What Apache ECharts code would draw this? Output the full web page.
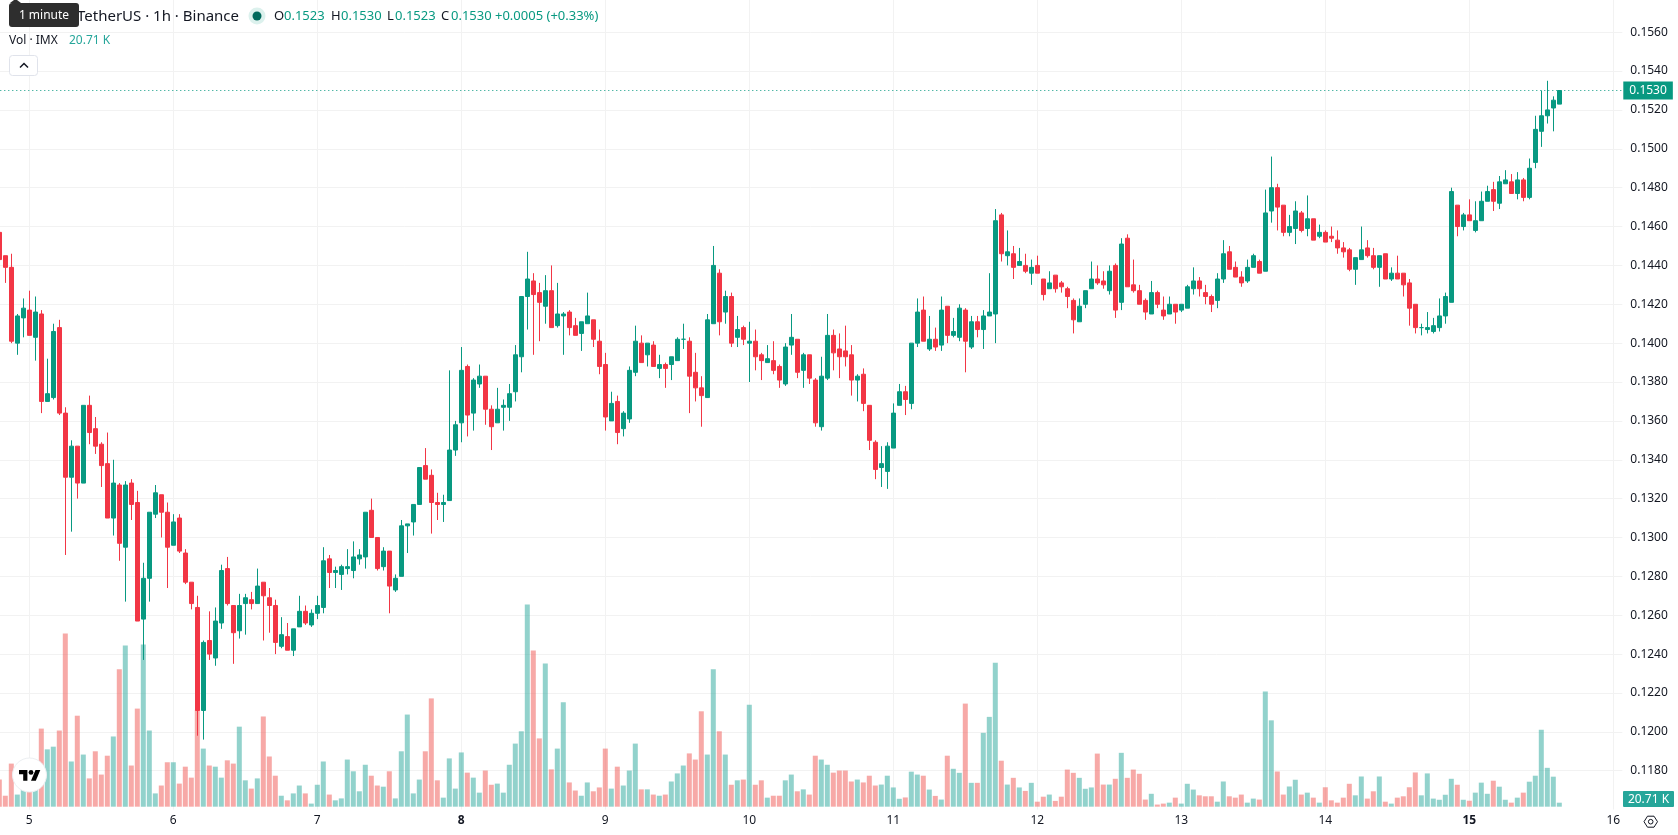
<!DOCTYPE html>
<html>
<head>
<meta charset="utf-8">
<title>IMX / USDT 1h</title>
<style>
  html, body { margin: 0; padding: 0; background: #fff; }
  #chart { width: 1678px; height: 835px; }
</style>
<script src="https://cdn.jsdelivr.net/npm/echarts@6/dist/echarts.min.js"></script>
</head>
<body>
<div id="chart"></div>
<script>
// Hourly bars, oldest first. The first bar is day 4, 19:00.
const opens = [
  0.1457,0.1445,0.1439,0.1400,0.1413,0.1417,0.1403,0.1415,0.1370,0.1372,
  0.1408,0.1364,0.1331,0.1347,0.1328,0.1368,0.1356,0.1348,0.1338,0.1310,
  0.1327,0.1295,0.1328,0.1318,0.1258,0.1279,0.1312,0.1322,0.1313,0.1296,
  0.1310,0.1292,0.1277,0.1264,0.1211,0.1247,0.1238,0.1256,0.1284,0.1265,
  0.1252,0.1266,0.1268,0.1266,0.1277,0.1269,0.1265,0.1244,0.1249,0.1242,
  0.1254,0.1262,0.1255,0.1261,0.1264,0.1289,0.1282,0.1281,0.1284,0.1283,
  0.1289,0.1290,0.1314,0.1300,0.1285,0.1293,0.1273,0.1280,0.1306,0.1308,
  0.1317,0.1337,0.1332,0.1318,0.1317,0.1319,0.1345,0.1359,0.1388,0.1364,
  0.1379,0.1383,0.1366,0.1359,0.1367,0.1367,0.1375,0.1393,0.1424,0.1432,
  0.1426,0.1419,0.1427,0.1409,0.1414,0.1416,0.1409,0.1405,0.1410,0.1412,
  0.1401,0.1389,0.1360,0.1370,0.1356,0.1361,0.1385,0.1400,0.1394,0.1399,
  0.1387,0.1389,0.1389,0.1391,0.1402,0.1401,0.1385,0.1377,0.1372,0.1410,
  0.1436,0.1416,0.1424,0.1403,0.1408,0.1400,0.1401,0.1394,0.1390,0.1391,
  0.1388,0.1379,0.1399,0.1402,0.1386,0.1394,0.1381,0.1357,0.1382,0.1404,
  0.1397,0.1396,0.1394,0.1381,0.1384,0.1368,0.1349,0.1336,0.1334,0.1346,
  0.1368,0.1375,0.1369,0.1400,0.1417,0.1397,0.1402,0.1399,0.1419,0.1404,
  0.1403,0.1417,0.1398,0.1411,0.1407,0.1414,0.1415,0.1466,0.1445,0.1446,
  0.1440,0.1440,0.1436,0.1440,0.1433,0.1428,0.1435,0.1431,0.1428,0.1422,
  0.1411,0.1420,0.1428,0.1433,0.1432,0.1427,0.1440,0.1421,0.1454,0.1430,
  0.1427,0.1422,0.1415,0.1426,0.1417,0.1415,0.1420,0.1417,0.1418,0.1428,
  0.1432,0.1426,0.1424,0.1422,0.1433,0.1447,0.1439,0.1434,0.1432,0.1439,
  0.1442,0.1437,0.1468,0.1480,0.1471,0.1457,0.1459,0.1467,0.1459,0.1464,
  0.1455,0.1457,0.1455,0.1453,0.1449,0.1448,0.1438,0.1443,0.1449,0.1445,
  0.1439,0.1446,0.1433,0.1436,0.1436,0.1431,0.1420,0.1408,0.1407,0.1406,
  0.1408,0.1414,0.1421,0.1471,0.1460,0.1466,0.1458,0.1463,0.1473,0.1479,
  0.1472,0.1482,0.1483,0.1477,0.1484,0.1475,0.1493,0.1509,0.1517,0.1521,
  0.1523
];
const highs = [
  0.1458,0.1445,0.1446,0.1415,0.1423,0.1427,0.1424,0.1417,0.1392,0.1410,
  0.1412,0.1367,0.1350,0.1347,0.1368,0.1373,0.1362,0.1349,0.1354,0.1340,
  0.1328,0.1329,0.1330,0.1324,0.1287,0.1313,0.1327,0.1322,0.1318,0.1312,
  0.1312,0.1294,0.1277,0.1270,0.1247,0.1262,0.1264,0.1286,0.1290,0.1265,
  0.1271,0.1271,0.1272,0.1284,0.1277,0.1274,0.1268,0.1259,0.1256,0.1253,
  0.1270,0.1265,0.1263,0.1270,0.1295,0.1291,0.1285,0.1286,0.1294,0.1298,
  0.1294,0.1313,0.1320,0.1300,0.1295,0.1293,0.1281,0.1309,0.1307,0.1317,
  0.1336,0.1346,0.1335,0.1323,0.1322,0.1386,0.1360,0.1398,0.1389,0.1382,
  0.1389,0.1383,0.1368,0.1377,0.1371,0.1379,0.1399,0.1424,0.1447,0.1436,
  0.1431,0.1435,0.1440,0.1431,0.1416,0.1417,0.1413,0.1411,0.1426,0.1412,
  0.1407,0.1395,0.1375,0.1373,0.1365,0.1388,0.1409,0.1404,0.1400,0.1401,
  0.1394,0.1390,0.1393,0.1403,0.1410,0.1403,0.1395,0.1383,0.1415,0.1450,
  0.1438,0.1427,0.1426,0.1414,0.1409,0.1411,0.1407,0.1395,0.1399,0.1401,
  0.1389,0.1400,0.1415,0.1402,0.1395,0.1394,0.1382,0.1393,0.1415,0.1407,
  0.1405,0.1409,0.1399,0.1384,0.1387,0.1368,0.1350,0.1347,0.1349,0.1369,
  0.1379,0.1378,0.1400,0.1423,0.1424,0.1414,0.1408,0.1424,0.1419,0.1413,
  0.1420,0.1418,0.1414,0.1414,0.1417,0.1436,0.1469,0.1467,0.1458,0.1450,
  0.1449,0.1446,0.1443,0.1445,0.1433,0.1437,0.1435,0.1432,0.1429,0.1423,
  0.1423,0.1427,0.1442,0.1440,0.1437,0.1440,0.1441,0.1454,0.1456,0.1443,
  0.1430,0.1423,0.1432,0.1427,0.1424,0.1424,0.1420,0.1420,0.1430,0.1439,
  0.1434,0.1430,0.1425,0.1436,0.1453,0.1450,0.1442,0.1437,0.1443,0.1446,
  0.1443,0.1479,0.1496,0.1482,0.1471,0.1466,0.1473,0.1468,0.1476,0.1464,
  0.1461,0.1458,0.1460,0.1458,0.1452,0.1449,0.1444,0.1460,0.1453,0.1449,
  0.1445,0.1446,0.1439,0.1445,0.1436,0.1433,0.1420,0.1410,0.1416,0.1413,
  0.1423,0.1426,0.1480,0.1471,0.1467,0.1474,0.1473,0.1478,0.1481,0.1483,
  0.1486,0.1489,0.1487,0.1488,0.1485,0.1495,0.1517,0.1530,0.1535,0.1527,
  0.1530
];
const lows = [
  0.1443,0.1431,0.1400,0.1394,0.1403,0.1404,0.1391,0.1364,0.1370,0.1371,
  0.1363,0.1291,0.1303,0.1320,0.1328,0.1348,0.1343,0.1326,0.1310,0.1301,
  0.1288,0.1267,0.1309,0.1257,0.1237,0.1267,0.1310,0.1300,0.1274,0.1296,
  0.1292,0.1276,0.1263,0.1198,0.1196,0.1237,0.1234,0.1253,0.1265,0.1235,
  0.1248,0.1250,0.1263,0.1266,0.1247,0.1251,0.1240,0.1243,0.1242,0.1239,
  0.1254,0.1255,0.1254,0.1258,0.1261,0.1274,0.1274,0.1273,0.1281,0.1279,
  0.1286,0.1284,0.1300,0.1283,0.1283,0.1261,0.1272,0.1280,0.1292,0.1301,
  0.1317,0.1330,0.1302,0.1309,0.1308,0.1319,0.1342,0.1349,0.1352,0.1355,
  0.1377,0.1358,0.1345,0.1359,0.1355,0.1360,0.1370,0.1385,0.1407,0.1394,
  0.1401,0.1410,0.1408,0.1408,0.1394,0.1404,0.1404,0.1396,0.1410,0.1398,
  0.1384,0.1355,0.1360,0.1348,0.1352,0.1359,0.1383,0.1390,0.1388,0.1388,
  0.1382,0.1377,0.1381,0.1391,0.1397,0.1364,0.1370,0.1357,0.1372,0.1410,
  0.1404,0.1410,0.1398,0.1398,0.1399,0.1380,0.1386,0.1381,0.1390,0.1384,
  0.1377,0.1378,0.1394,0.1382,0.1377,0.1379,0.1357,0.1355,0.1381,0.1386,
  0.1382,0.1388,0.1373,0.1370,0.1365,0.1345,0.1330,0.1326,0.1325,0.1346,
  0.1368,0.1363,0.1366,0.1398,0.1401,0.1396,0.1396,0.1396,0.1400,0.1403,
  0.1401,0.1385,0.1397,0.1403,0.1397,0.1414,0.1400,0.1442,0.1440,0.1433,
  0.1440,0.1436,0.1430,0.1436,0.1422,0.1428,0.1426,0.1426,0.1418,0.1405,
  0.1411,0.1418,0.1428,0.1430,0.1428,0.1425,0.1413,0.1417,0.1429,0.1426,
  0.1420,0.1412,0.1415,0.1418,0.1412,0.1415,0.1410,0.1416,0.1418,0.1425,
  0.1424,0.1420,0.1416,0.1418,0.1431,0.1438,0.1434,0.1429,0.1431,0.1439,
  0.1436,0.1437,0.1462,0.1458,0.1455,0.1455,0.1451,0.1457,0.1455,0.1453,
  0.1454,0.1452,0.1452,0.1446,0.1444,0.1437,0.1430,0.1443,0.1444,0.1438,
  0.1429,0.1433,0.1432,0.1433,0.1424,0.1409,0.1405,0.1404,0.1405,0.1405,
  0.1406,0.1410,0.1421,0.1455,0.1458,0.1463,0.1457,0.1463,0.1473,0.1468,
  0.1469,0.1482,0.1477,0.1474,0.1473,0.1474,0.1490,0.1501,0.1513,0.1509,
  0.1523
];
const closes = [
  0.1443,0.1439,0.1401,0.1414,0.1418,0.1404,0.1416,0.1370,0.1374,0.1406,
  0.1364,0.1331,0.1347,0.1328,0.1368,0.1354,0.1347,0.1337,0.1310,0.1328,
  0.1297,0.1327,0.1317,0.1257,0.1279,0.1313,0.1323,0.1313,0.1295,0.1308,
  0.1293,0.1277,0.1266,0.1211,0.1246,0.1240,0.1257,0.1283,0.1266,0.1251,
  0.1265,0.1269,0.1266,0.1275,0.1270,0.1265,0.1246,0.1250,0.1242,0.1253,
  0.1262,0.1256,0.1261,0.1265,0.1288,0.1282,0.1283,0.1285,0.1285,0.1290,
  0.1291,0.1313,0.1300,0.1284,0.1293,0.1275,0.1279,0.1306,0.1307,0.1317,
  0.1336,0.1330,0.1318,0.1317,0.1318,0.1345,0.1358,0.1386,0.1363,0.1381,
  0.1383,0.1366,0.1357,0.1366,0.1368,0.1374,0.1394,0.1424,0.1433,0.1425,
  0.1421,0.1427,0.1408,0.1415,0.1415,0.1408,0.1404,0.1411,0.1414,0.1402,
  0.1388,0.1362,0.1369,0.1354,0.1364,0.1386,0.1401,0.1390,0.1400,0.1388,
  0.1389,0.1387,0.1393,0.1402,0.1402,0.1383,0.1377,0.1373,0.1412,0.1440,
  0.1411,0.1424,0.1400,0.1407,0.1402,0.1401,0.1393,0.1391,0.1392,0.1386,
  0.1381,0.1398,0.1403,0.1385,0.1394,0.1382,0.1359,0.1383,0.1404,0.1395,
  0.1393,0.1393,0.1381,0.1383,0.1369,0.1350,0.1335,0.1338,0.1347,0.1364,
  0.1375,0.1371,0.1400,0.1416,0.1401,0.1402,0.1398,0.1417,0.1404,0.1406,
  0.1418,0.1401,0.1411,0.1407,0.1414,0.1416,0.1463,0.1446,0.1447,0.1439,
  0.1442,0.1437,0.1439,0.1436,0.1425,0.1431,0.1428,0.1429,0.1424,0.1412,
  0.1419,0.1427,0.1433,0.1431,0.1430,0.1437,0.1417,0.1451,0.1429,0.1427,
  0.1420,0.1416,0.1426,0.1420,0.1414,0.1420,0.1416,0.1420,0.1429,0.1432,
  0.1428,0.1424,0.1420,0.1433,0.1446,0.1438,0.1434,0.1431,0.1439,0.1445,
  0.1436,0.1467,0.1480,0.1470,0.1457,0.1460,0.1468,0.1458,0.1464,0.1453,
  0.1457,0.1452,0.1454,0.1449,0.1447,0.1438,0.1444,0.1448,0.1445,0.1439,
  0.1445,0.1433,0.1436,0.1433,0.1430,0.1418,0.1408,0.1408,0.1408,0.1409,
  0.1414,0.1424,0.1478,0.1460,0.1466,0.1463,0.1463,0.1473,0.1478,0.1473,
  0.1483,0.1484,0.1477,0.1484,0.1475,0.1490,0.1510,0.1517,0.1520,0.1525,
  0.1530
];
// Traded volume per bar, in thousands of IMX.
const volumes = [
  141,57,224,63,86,80,106,406,298,312,
  396,900,235,473,271,147,288,167,265,365,
  714,838,214,510,843,396,69,110,231,231,
  120,208,151,504,302,214,208,151,241,224,
  416,137,94,147,469,261,161,57,33,69,
  110,69,16,114,235,63,33,43,245,184,
  80,218,161,110,104,184,43,288,479,69,
  141,288,563,137,47,251,94,282,177,151,
  73,188,114,120,73,218,328,392,1051,812,
  355,745,194,302,543,126,84,57,126,80,
  100,302,94,208,110,188,328,90,90,63,
  57,63,131,173,214,277,245,496,271,714,
  392,271,114,137,141,530,114,137,47,57,
  57,137,167,80,90,63,265,245,218,177,
  188,188,131,141,126,161,110,115,161,100,
  41,48,182,167,161,89,56,37,265,197,
  176,536,124,124,384,467,749,239,115,150,
  100,82,124,26,52,63,30,52,193,176,
  150,93,100,276,115,115,145,280,150,193,
  171,37,67,11,16,21,47,16,119,89,
  59,54,54,26,131,54,47,63,21,42,
  37,599,449,183,63,105,140,63,73,47,
  21,101,33,21,47,119,59,157,42,80,
  157,26,16,47,54,101,178,59,173,42,
  36,62,145,114,36,31,73,125,67,135,
  104,36,21,47,73,130,161,400,202,156,
  20.71
];

const lastPrice = 0.1530;
const lastVolumeLabel = '20.71 K';
const legendValues = [['O', '0.1523', 274], ['H', '0.1530', 331], ['L', '0.1523', 387], ['C', '0.1530', 441]];
const boldDays = [8, 15];

const UP = '#089981', DOWN = '#f23645';
const VOL_UP = 'rgba(38,166,154,0.5)', VOL_DOWN = 'rgba(239,83,80,0.5)';
const GRID = '#f2f2f2', INK = '#131722';
const FONT = '"Noto Sans", sans-serif';

// Hour slots run from day 4 19:00 up to day 16 01:00, leaving room right of the last bar.
const categories = [];
for (let n = 0; n < 271; n++) {
  const h = n + 19;
  categories.push((4 + Math.floor(h / 24)) + ':' + (h % 24));
}
const isMidnight = (i) => categories[i].endsWith(':0');

const candleData = opens.map((o, i) => [o, closes[i], lows[i], highs[i]]);
const volumeData = volumes.map((v, i) => ({
  value: v,
  itemStyle: { color: closes[i] >= opens[i] ? VOL_UP : VOL_DOWN }
}));

const txt = (x, y, text, fill, size, align) => ({
  type: 'text', x, y, z: 20,
  style: { text, fill, font: (size || 13) + 'px ' + FONT, textAlign: align || 'left', textVerticalAlign: 'middle' }
});

const headerItems = [];
legendValues.forEach(([k, v, x]) => {
  headerItems.push(txt(x, 16, k, INK));
  headerItems.push(txt(x + (k === 'L' ? 8 : 10), 16, v, UP));
});
headerItems.push(txt(495, 16, '+0.0005 (+0.33%)', UP));

const graphic = [
  txt(239, 16.5, 'TetherUS · 1h · Binance', INK, 15, 'right'),
  { type: 'circle', z: 20, shape: { cx: 257, cy: 16, r: 8.5 }, style: { fill: '#dcf1ed' } },
  { type: 'circle', z: 21, shape: { cx: 257, cy: 16, r: 4.5 }, style: { fill: '#00695c' } },
  ...headerItems,
  { type: 'polygon', z: 30, shape: { points: [[10, 3], [14, 0], [17, 0], [21, 3]] }, style: { fill: '#2e2e2e' } },
  { type: 'rect', z: 30, shape: { x: 9, y: 3, width: 70, height: 24, r: 3 }, style: { fill: '#2e2e2e' } },
  Object.assign(txt(44, 15.5, '1 minute', '#ffffff', 12, 'center'), { z: 31 }),
  txt(9, 41, 'Vol · IMX', INK, 12),
  txt(69, 41, '20.71 K', '#26a69a', 12),
  { type: 'rect', z: 20, shape: { x: 9.5, y: 55.5, width: 28, height: 20, r: 3 }, style: { fill: '#fff', stroke: '#e0e3eb', lineWidth: 1 } },
  { type: 'polyline', z: 21, shape: { points: [[20, 67.5], [24, 63.5], [28, 67.5]] }, style: { stroke: INK, lineWidth: 1.5, fill: 'none' } },
  // round brand badge, bottom left
  { type: 'circle', z: 20, shape: { cx: 29.5, cy: 775, r: 17 }, style: { fill: '#fff', stroke: '#eceff2', lineWidth: 1 } },
  { type: 'polygon', z: 21, shape: { points: [[19, 770], [27.4, 770], [27.4, 780.8], [23.2, 780.8], [23.2, 774.2], [19, 774.2]] }, style: { fill: '#000' } },
  { type: 'polygon', z: 21, shape: { points: [[35.5, 770], [40.3, 770], [35.8, 780.8], [31, 780.8]] }, style: { fill: '#000' } },
  { type: 'circle', z: 21, shape: { cx: 31, cy: 772.4, r: 2.4 }, style: { fill: '#000' } },
  // last volume tag on the price scale
  { type: 'rect', z: 20, shape: { x: 1623, y: 791, width: 51, height: 16, r: 1 }, style: { fill: '#26a69a' } },
  Object.assign(txt(1648.5, 799.5, lastVolumeLabel, '#ffffff', 12, 'center'), { z: 21 }),
  // settings icon in the corner of the axes
  { type: 'polygon', z: 20, shape: { points: [[1644, 821.7], [1647.5, 816.2], [1654, 816.2], [1657.5, 821.7], [1654, 827.2], [1647.5, 827.2]] },
    style: { fill: 'none', stroke: INK, lineWidth: 1 } },
  { type: 'circle', z: 20, shape: { cx: 1650.7, cy: 821.7, r: 2.3 }, style: { fill: 'none', stroke: INK, lineWidth: 1 } }
];

const chart = echarts.init(document.getElementById('chart'), null, { renderer: 'canvas' });
chart.setOption({
  animation: false,
  backgroundColor: '#ffffff',
  textStyle: { fontFamily: FONT },
  // top is chosen so the last-price line lands on a pixel centre and stays crisp
  grid: { left: -3.7, top: -6.67, width: 1626, height: 816.24, containLabel: false, outerBoundsMode: 'none' },
  xAxis: {
    type: 'category',
    data: categories,
    boundaryGap: true,
    axisLine: { show: false },
    axisTick: { show: false },
    splitLine: {
      show: true,
      interval: isMidnight,
      alignWithLabel: true,
      lineStyle: { color: GRID, width: 1 }
    },
    axisLabel: {
      interval: isMidnight,
      margin: 5,
      fontSize: 12,
      fontFamily: FONT,
      color: INK,
      formatter: (value) => {
        const day = parseInt(value, 10);
        return boldDays.includes(day) ? '{strong|' + day + '}' : String(day);
      },
      rich: { strong: { fontWeight: 'bold', fontSize: 12, fontFamily: FONT, color: INK } }
    }
  },
  yAxis: [
    {
      type: 'value',
      position: 'right',
      min: 0.116,
      max: 0.158,
      interval: 0.002,
      axisLine: { show: false },
      axisTick: { show: false },
      splitLine: { show: true, showMinLine: false, showMaxLine: false, lineStyle: { color: GRID, width: 1 } },
      axisLabel: {
        showMinLabel: false,
        showMaxLabel: false,
        margin: 8,
        fontSize: 12,
        fontFamily: FONT,
        color: INK,
        formatter: (v) => v.toFixed(4)
      }
    },
    { type: 'value', show: false, min: -15, max: 4229, splitLine: { show: false } }
  ],
  series: [
    {
      name: 'Vol',
      type: 'bar',
      yAxisIndex: 1,
      barWidth: 5,
      z: 2,
      data: volumeData
    },
    {
      name: 'IMX/USDT',
      type: 'candlestick',
      yAxisIndex: 0,
      barWidth: 4,
      z: 3,
      progressive: 0,
      itemStyle: { color: UP, color0: DOWN, borderColor: UP, borderColor0: DOWN, borderWidth: 1 },
      data: candleData,
      markLine: {
        silent: true,
        symbol: 'none',
        precision: 4,
        animation: false,
        lineStyle: { color: UP, type: [1, 3], width: 1 },
        label: {
          show: true,
          position: 'end',
          distance: 1,
          formatter: lastPrice.toFixed(4),
          color: '#ffffff',
          backgroundColor: UP,
          padding: [3, 6, 3, 6],
          fontSize: 12,
          fontFamily: FONT
        },
        data: [{ yAxis: lastPrice }]
      }
    }
  ],
  graphic: { elements: graphic }
});
</script>
</body>
</html>
